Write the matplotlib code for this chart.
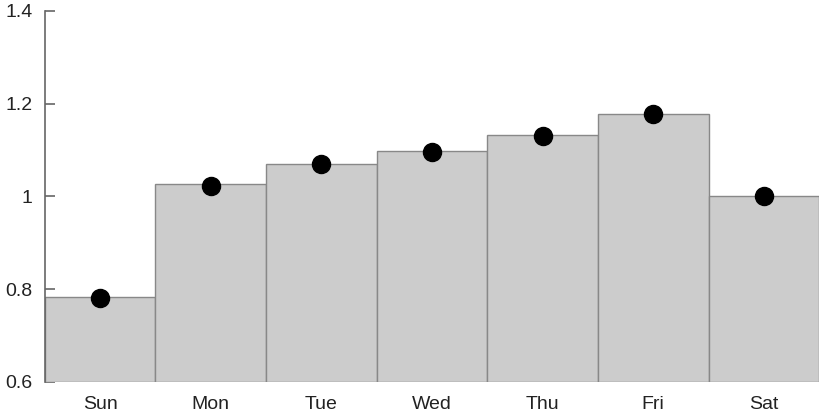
import matplotlib
matplotlib.use('Agg')
import matplotlib.pyplot as plt
import numpy as np

days = ['Sun', 'Mon', 'Tue', 'Wed', 'Thu', 'Fri', 'Sat']
bar_values = [0.783, 1.027, 1.070, 1.098, 1.133, 1.178, 1.000]
dot_values = [0.781, 1.022, 1.069, 1.095, 1.130, 1.177, 1.000]
base = 0.6

plt.rcParams['font.family'] = ['Liberation Sans', 'DejaVu Sans']

fig = plt.figure(figsize=(8.3, 4.16), dpi=100)
ax = fig.add_axes([0.054, 0.082, 0.933, 0.892])

x = np.arange(len(days))
ax.bar(x, np.array(bar_values) - base, bottom=base, width=1.0,
       color='#cccccc', edgecolor='#888888', linewidth=1.0, zorder=2)
ax.plot(x, dot_values, 'o', color='black', ms=13, zorder=3, clip_on=False)

ax.set_xlim(-0.5, len(days) - 0.5)
ax.set_ylim(0.6, 1.4)
ax.set_yticks([0.6, 0.8, 1.0, 1.2, 1.4])
ax.set_yticklabels(['0.6', '0.8', '1', '1.2', '1.4'])
ax.set_xticks(x)
ax.set_xticklabels(days)

for s in ['top', 'right', 'bottom']:
    ax.spines[s].set_visible(False)
ax.spines['left'].set_color('#666666')
ax.spines['left'].set_linewidth(1.2)
ax.tick_params(axis='y', direction='in', length=7, width=1.2, color='#666666',
               labelsize=14, labelcolor='#222222', pad=9)
ax.tick_params(axis='x', length=0, labelsize=14, labelcolor='#222222', pad=10)

fig.savefig('out.png', dpi=100)
